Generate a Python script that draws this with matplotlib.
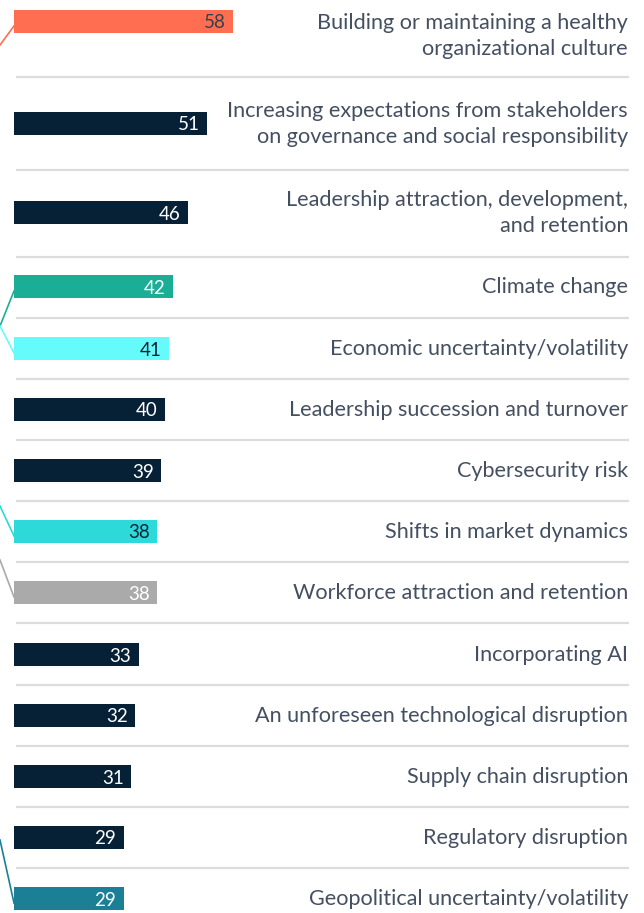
import matplotlib
matplotlib.use("Agg")
import matplotlib.pyplot as plt

categories = [
    "Building or maintaining a healthy\norganizational culture",
    "Increasing expectations from stakeholders\non governance and social responsibility",
    "Leadership attraction, development,\nand retention",
    "Climate change",
    "Economic uncertainty/volatility",
    "Leadership succession and turnover",
    "Cybersecurity risk",
    "Shifts in market dynamics",
    "Workforce attraction and retention",
    "Incorporating AI",
    "An unforeseen technological disruption",
    "Supply chain disruption",
    "Regulatory disruption",
    "Geopolitical uncertainty/volatility",
]
values = [58, 51, 46, 42, 41, 40, 39, 38, 38, 33, 32, 31, 29, 29]

# styling / layout
bar_colors = ["#ff6e50", "#062136", "#062136", "#1aae96", "#66fbfb", "#062136",
              "#062136", "#2ed9d9", "#aaaaaa", "#062136", "#062136", "#062136",
              "#062136", "#1b7f96"]
value_colors = ["#33404f", "white", "white", "white", "#0b2236", "white", "white",
                "#0b2236", "white", "white", "white", "white", "white", "white"]
y_bar = [22, 124, 213, 287, 349, 410, 471, 532, 593, 655, 716, 777, 838, 899]
y_txt = [36, 124, 213, 287, 349, 410, 471, 532, 593, 655, 716, 777, 838, 899]
seps = [77, 170, 257, 318, 379, 440, 501, 562, 623, 685, 746, 807, 868]
# connector lines from left edge: (start y at x=left edge) for highlighted rows
connectors = {0: 45, 3: 326, 4: 326, 7: 506, 8: 560, 13: 840}

W, H = 644, 913
px_per_unit = 3.776
x0_px = 14
fig = plt.figure(figsize=(W / 100, H / 100), dpi=100)
ax = fig.add_axes([0, 0, 1, 1])
ax.set_xlim(-x0_px / px_per_unit, (W - x0_px) / px_per_unit)
ax.set_ylim(H, 0)
ax.axis("off")

ax.barh(y_bar, values, height=23, color=bar_colors, left=0)

for i, (v, yb, yt, lab) in enumerate(zip(values, y_bar, y_txt, categories)):
    ax.text(v - 1.9, yb + 1, str(v), ha="right", va="center", fontsize=13.5,
            color=value_colors[i], family="Lato")
    ax.text((628 - x0_px) / px_per_unit, yt, lab, ha="right", va="center",
            fontsize=15.6, color="#445061", family="Lato", linespacing=1.42)

for s in seps:
    ax.plot([(16 - x0_px) / px_per_unit, (629 - x0_px) / px_per_unit], [s, s],
            color="#dcdcdc", lw=1.6, solid_capstyle="butt")

for i, ys in connectors.items():
    ax.plot([-x0_px / px_per_unit, 0], [ys, y_bar[i] + 4], color=bar_colors[i],
            lw=1.2, clip_on=False)

fig.savefig("out.png", dpi=100)
